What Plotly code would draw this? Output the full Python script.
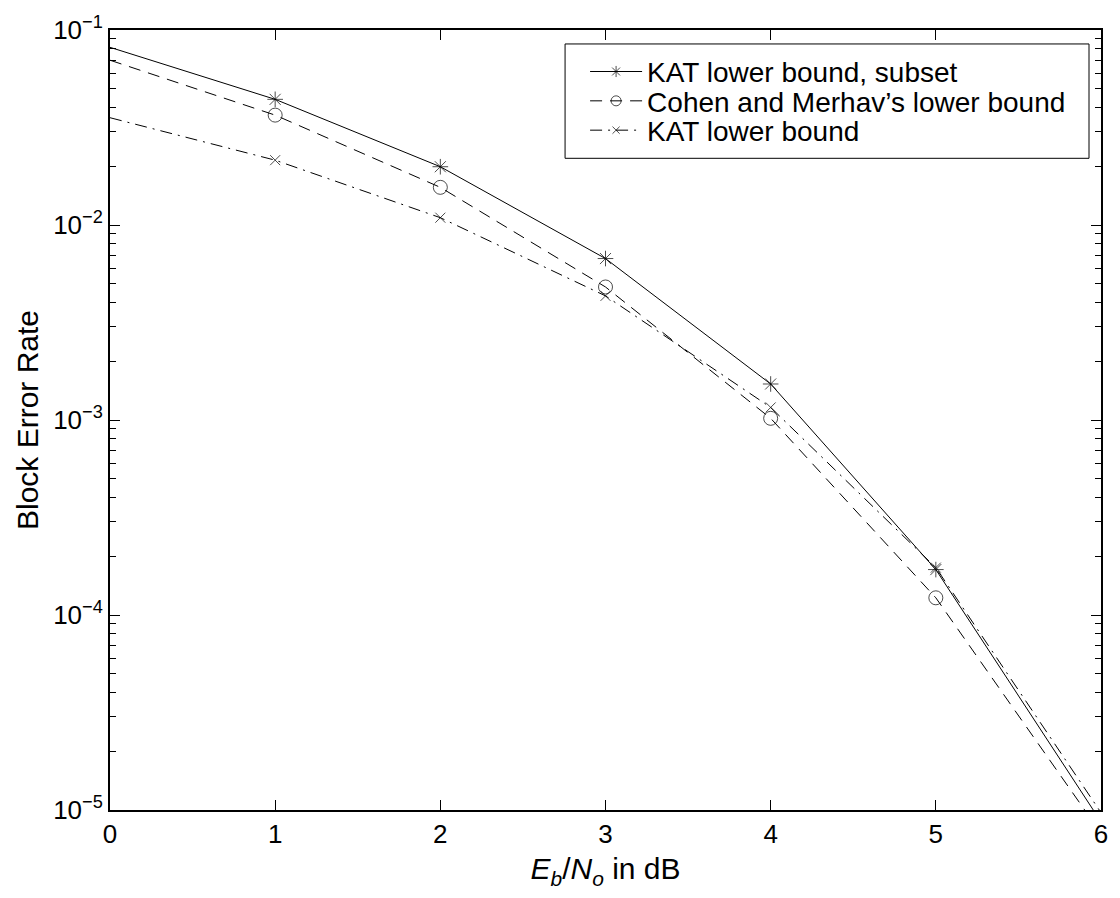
import plotly.graph_objects as go

# Eb/No in dB
ebno = [0, 1, 2, 3, 4, 5, 6]

# block error rate bounds
kat_subset = [0.0815, 0.0441, 0.0199, 0.00673, 0.00153, 1.71e-4, 8.7e-6]
cohen_merhav = [0.0700, 0.0366, 0.0156, 0.00481, 0.00102, 1.225e-4, 7.6e-6]
kat_bound = [0.0355, 0.0215, 0.0109, 0.00433, 0.00116, 1.75e-4, 9.7e-6]

# markers only at the interior points
marker_sizes = [0, 1, 1, 1, 1, 1, 0]

y_tickvals = [1e-5, 1e-4, 1e-3, 1e-2, 1e-1]
y_ticktext = ["10<sup>\u22125</sup>", "10<sup>\u22124</sup>", "10<sup>\u22123</sup>",
              "10<sup>\u22122</sup>", "10<sup>\u22121</sup>"]
x_tickvals = [0, 1, 2, 3, 4, 5, 6]

FONT = "Liberation Sans, Arial, Helvetica, sans-serif"

series = [
    ("KAT lower bound, subset", kat_subset, "solid", "asterisk-open", 13, "legend"),
    ("Cohen and Merhav\u2019s lower bound", cohen_merhav, "12px,8px", "circle-open", 14, "legend2"),
    ("KAT lower bound", kat_bound, "12px,6px,2px,6px", "x-thin-open", 10, "legend3"),
]

fig = go.Figure()
for name, vals, dash, symbol, size, leg in series:
    fig.add_trace(go.Scatter(
        x=ebno, y=vals, mode="lines+markers", name=name, legend=leg,
        line=dict(color="black", width=1, dash=dash),
        marker=dict(symbol=symbol, size=[s * size for s in marker_sizes],
                    color="black", line=dict(color="black", width=1)),
    ))

# one legend row per series, stacked inside a common frame
def legend_row(yc):
    return dict(
        x=0.4794, y=yc, xanchor="left", yanchor="middle",
        bgcolor="rgba(0,0,0,0)", borderwidth=0,
        font=dict(size=28, family=FONT, color="black"),
        itemsizing="trace", itemwidth=52,
    )

fig.update_layout(
    width=1120, height=898,
    margin=dict(l=110, r=17, t=26, b=88),
    paper_bgcolor="white", plot_bgcolor="white",
    font=dict(family=FONT, color="black", size=26),
    showlegend=True,
    legend=legend_row(0.9464),
    legend2=legend_row(0.9088),
    legend3=legend_row(0.8712),
    shapes=[dict(type="rect", xref="paper", yref="paper",
                 x0=0.4592, x1=0.9879, y0=0.8355, y1=0.9821,
                 line=dict(color="black", width=1), fillcolor="white",
                 layer="below")],
)

fig.update_xaxes(
    range=[0, 6], tickvals=x_tickvals, ticks="inside", ticklen=10,
    tickwidth=1, tickcolor="black", showline=True, linecolor="black",
    linewidth=2, mirror="ticks", showgrid=False, zeroline=False,
    tickfont=dict(size=26),
    title=dict(text="<i>E</i><sub><i>b</i></sub>/<i>N</i><sub><i>o</i></sub> in dB",
               font=dict(size=30), standoff=10),
)
fig.update_yaxes(
    type="log", range=[-5, -1], tickvals=y_tickvals, ticktext=y_ticktext,
    ticks="inside", ticklen=10, tickwidth=1, tickcolor="black",
    showline=True, linecolor="black", linewidth=2, mirror="ticks",
    showgrid=False, zeroline=False, tickfont=dict(size=26),
    minor=dict(ticks="inside", ticklen=6, tickwidth=1, tickcolor="black",
               dtick="D1", showgrid=False),
    title=dict(text="Block Error Rate", font=dict(size=30), standoff=6),
)

fig.write_html("out.html")
